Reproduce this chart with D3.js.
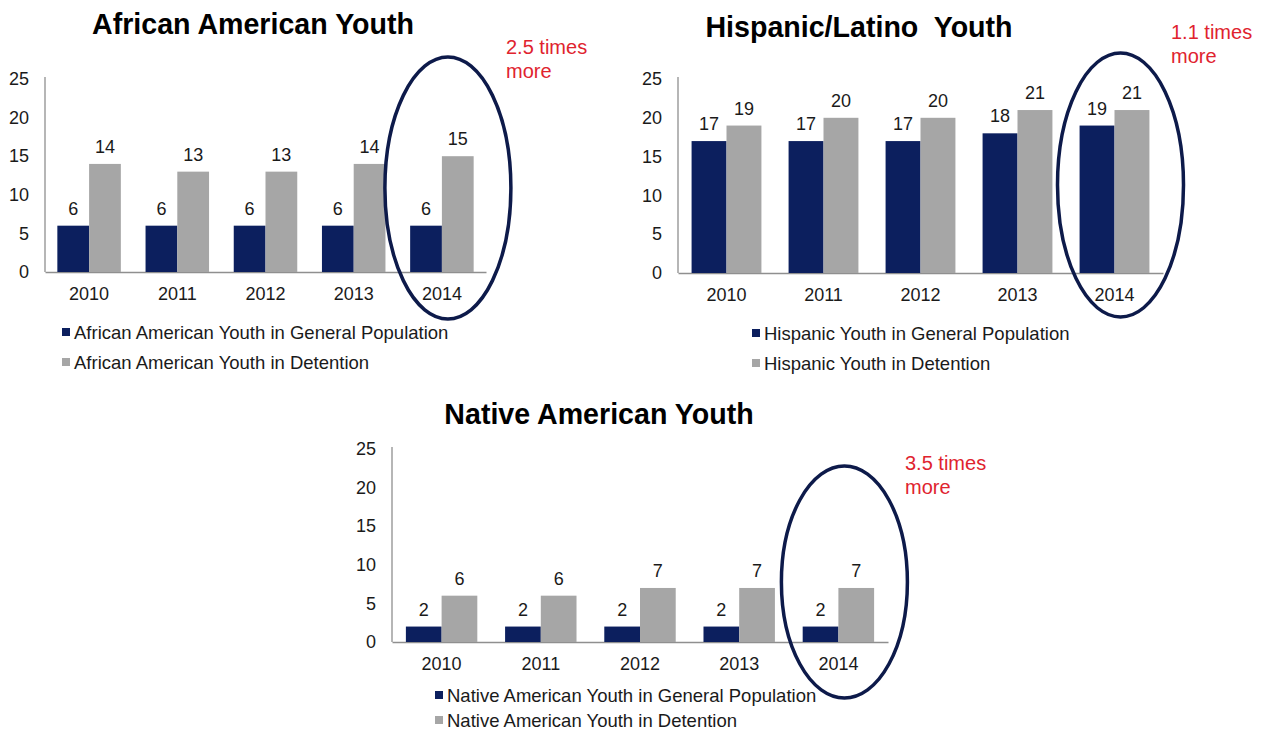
<!DOCTYPE html>
<html>
<head>
<meta charset="utf-8">
<script src="https://cdn.jsdelivr.net/npm/d3@7/dist/d3.min.js"></script>
<style>
  html, body { margin: 0; padding: 0; background: #fff; }
  svg { display: block; font-family: "Liberation Sans", Arial, sans-serif; }
</style>
</head>
<body>
<script>
// ---------- data ----------
const years = ["2010", "2011", "2012", "2013", "2014"];
const yTicks = [0, 5, 10, 15, 20, 25];

const aaGeneral   = [6, 6, 6, 6, 6];
const aaDetention = [14, 13, 13, 14, 15];

const hisGeneral   = [17, 17, 17, 18, 19];
const hisDetention = [19, 20, 20, 21, 21];

const naGeneral   = [2, 2, 2, 2, 2];
const naDetention = [6, 6, 7, 7, 7];

const titles = ["African American Youth", "Hispanic/Latino  Youth", "Native American Youth"];
const legendGeneral = [
  "African American Youth in General Population",
  "Hispanic Youth in General Population",
  "Native American Youth in General Population"
];
const legendDetention = [
  "African American Youth in Detention",
  "Hispanic Youth in Detention",
  "Native American Youth in Detention"
];
const notes = [["2.5 times", "more"], ["1.1 times", "more"], ["3.5 times", "more"]];

// ---------- style ----------
const NAVY = "#0c1f5e";
const GRAY = "#a6a6a6";
const RING = "#0d1a4a";
const RED = "#e0232e";
const TXT = "#1a1a1a";
const AXIS = "#8f8f8f";

const svg = d3.select("body").append("svg").attr("width", 1265).attr("height", 730);

// layout per chart
const layouts = [
  { x0: 45, x1: 486, y0: 272, y25: 79, top: 77, titleX: 253, titleY: 34,
    noteX: 506, noteY: 54, legX: 62, legY1: 332, legY2: 362,
    ringDy: 188, ringRy: 131 },
  { x0: 678, x1: 1163, y0: 273, y25: 79, top: 77, titleX: 859, titleY: 37,
    noteX: 1171, noteY: 39, legX: 752, legY1: 333, legY2: 363,
    ringDy: 185, ringRy: 132 },
  { x0: 392, x1: 888, y0: 642, y25: 449, top: 447, titleX: 599, titleY: 424,
    noteX: 905, noteY: 470, legX: 435, legY1: 695, legY2: 720,
    ringDy: 582, ringRy: 116 }
];

const seriesSets = [
  [aaGeneral, aaDetention],
  [hisGeneral, hisDetention],
  [naGeneral, naDetention]
];

layouts.forEach((L, i) => {
  const g = svg.append("g");
  const [gen, det] = seriesSets[i];

  const x = d3.scaleBand().domain(years).range([L.x0, L.x1]).padding(0);
  const step = x.bandwidth();
  const pad = step * 0.14;
  const xs = d3.scaleBand().domain(["gen", "det"]).range([pad, step - pad]).padding(0);
  const y = d3.scaleLinear().domain([0, 25]).range([L.y0, L.y25]);

  // title
  g.append("text").attr("x", L.titleX).attr("y", L.titleY)
    .attr("text-anchor", "middle").attr("font-size", 28.6).attr("font-weight", "bold")
    .attr("fill", "#000").style("white-space", "pre").text(titles[i]);

  // y axis
  const yAxis = d3.axisLeft(y).tickValues(yTicks).tickSize(0).tickPadding(16);
  const ya = g.append("g").attr("transform", `translate(${L.x0},0)`).call(yAxis);
  ya.select(".domain").remove();
  ya.selectAll("text").attr("font-size", 18).attr("fill", TXT).attr("font-family", null);
  g.append("line").attr("x1", L.x0).attr("x2", L.x0).attr("y1", L.top).attr("y2", L.y0)
    .attr("stroke", AXIS).attr("stroke-width", 1.3);

  // x axis
  const xAxis = d3.axisBottom(x).tickSize(0).tickPadding(15);
  const xa = g.append("g").attr("transform", `translate(0,${L.y0})`).call(xAxis);
  xa.select(".domain").attr("stroke", AXIS).attr("stroke-width", 1.3);
  xa.selectAll("text").attr("font-size", 18).attr("fill", TXT).attr("font-family", null);

  // bars
  const rows = years.map((yr, k) => ({ yr, gen: gen[k], det: det[k] }));
  const grp = g.selectAll(".grp").data(rows).join("g")
    .attr("transform", d => `translate(${x(d.yr)},0)`);
  [["gen", NAVY], ["det", GRAY]].forEach(([key, col]) => {
    grp.append("rect")
      .attr("x", xs(key)).attr("width", xs.bandwidth())
      .attr("y", d => y(d[key])).attr("height", d => y(0) - y(d[key]))
      .attr("fill", col);
    grp.append("text")
      .attr("x", xs(key) + xs.bandwidth() / 2)
      .attr("y", d => y(d[key]) - 11)
      .attr("text-anchor", "middle").attr("font-size", 18).attr("fill", TXT)
      .text(d => d[key]);
  });

  // legend
  [[legendGeneral[i], NAVY, L.legY1], [legendDetention[i], GRAY, L.legY2]].forEach(([lab, col, ly]) => {
    g.append("rect").attr("x", L.legX).attr("y", ly - 4).attr("width", 8).attr("height", 8).attr("fill", col);
    g.append("text").attr("x", L.legX + 12).attr("y", ly + 6.5)
      .attr("font-size", 18.5).attr("fill", TXT).text(lab);
  });

  // highlight ring around last year
  const last = years[years.length - 1];
  g.append("ellipse")
    .attr("cx", x(last) + step / 2 + 6).attr("cy", L.ringDy)
    .attr("rx", 63).attr("ry", L.ringRy)
    .attr("fill", "none").attr("stroke", RING).attr("stroke-width", 3.5);

  // annotation
  notes[i].forEach((t, k) => {
    g.append("text").attr("x", L.noteX).attr("y", L.noteY + k * 24)
      .attr("font-size", 20).attr("fill", RED).text(t);
  });
});
</script>
</body>
</html>
